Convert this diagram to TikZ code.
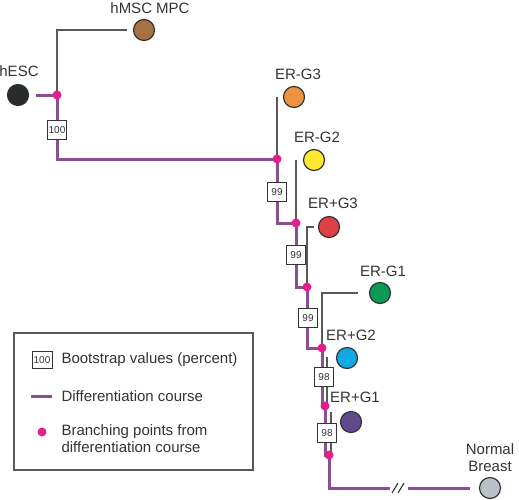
\documentclass[tikz,border=0pt]{standalone}
\usepackage{fontspec}
\setmainfont{Liberation Sans}
\usetikzlibrary{positioning}

\definecolor{course}{RGB}{137,79,145}
\definecolor{branchpink}{RGB}{228,30,140}
\definecolor{inkgray}{RGB}{51,51,51}
\definecolor{cHESC}{RGB}{40,44,43}
\definecolor{cMSC}{RGB}{166,112,64}
\definecolor{cERGthree}{RGB}{236,146,64}
\definecolor{cERGtwo}{RGB}{255,232,48}
\definecolor{cERPGthree}{RGB}{222,64,70}
\definecolor{cERGone}{RGB}{10,154,88}
\definecolor{cERPGtwo}{RGB}{16,170,226}
\definecolor{cERPGone}{RGB}{96,74,142}
\definecolor{cNormal}{RGB}{186,192,200}

\tikzset{
  leaf/.style={circle, draw=inkgray, line width=1.2pt, minimum size=21pt, inner sep=0pt},
  branchpt/.style={circle, fill=branchpink, minimum size=9pt, inner sep=0pt},
  bootbox/.style={draw=inkgray, fill=white, line width=1pt, minimum width=19pt,
    minimum height=19pt, inner sep=0pt, text=inkgray, font=\fontsize{10}{12}\selectfont},
  diff/.style={course, line width=3pt},
  link/.style={black!65, line width=1.3pt},
  lbl/.style={text=inkgray, font=\fontsize{15}{17}\selectfont}
}

\begin{document}
\begin{tikzpicture}[x=1pt, y=-1pt]
    \useasboundingbox (0,0) rectangle (519,499);

    % Branching points on the course
    \coordinate (br1) at (57,95);
    \coordinate (br2) at (277,159);
    \coordinate (br3) at (296,223);
    \coordinate (br4) at (307,287);
    \coordinate (br5) at (322,348);
    \coordinate (br6) at (325,406);
    \coordinate (br7) at (329,455);
    \coordinate (cutin) at (390,488);
    \coordinate (cutout) at (408,488);
    \coordinate (erpgtwotop) at (327,357);
    \coordinate (erpgonetop) at (331,412);

    % Cell types
    \node[leaf, fill=cHESC] (hesc) at (18,95) {};
    \node[leaf, fill=cMSC] (hmsc) at (144,30) {};
    \node[leaf, fill=cERGthree] (ergthree) at (294,97) {};
    \node[leaf, fill=cERGtwo] (ergtwo) at (314,160) {};
    \node[leaf, fill=cERPGthree] (erpgthree) at (329,227) {};
    \node[leaf, fill=cERGone] (ergone) at (380,293) {};
    \node[leaf, fill=cERPGtwo] (erpgtwo) at (347,358) {};
    \node[leaf, fill=cERPGone] (erpgone) at (351,422) {};
    \node[leaf, fill=cNormal] (normal) at (490,488) {};

    % Names of the cell types
    \node[lbl] (hesctxt) at (19,71) {hESC};
    \node[lbl] (hmsctxt) at (150,8) {hMSC MPC};
    \node[lbl] (ergthreetxt) at (298,74) {ER-G3};
    \node[lbl] (ergtwotxt) at (317,137) {ER-G2};
    \node[lbl] (erpgthreetxt) at (333,203) {ER+G3};
    \node[lbl] (ergonetxt) at (383,271) {ER-G1};
    \node[lbl] (erpgtwotxt) at (351,335) {ER+G2};
    \node[lbl] (erpgonetxt) at (355,397) {ER+G1};
    \node[lbl, align=center] (normaltxt) at (490,458) {Normal\\Breast};

    % Side branches
    \draw[link, shorten >=6pt] (br1) |- (hmsc);
    \draw[link] (br2) -- (br2 |- ergthree);
    \draw[link] (br3) -- (br3 |- ergtwo);
    \draw[link, shorten >=4pt] (br4) |- (erpgthree);
    \draw[link, shorten >=11pt] (br5) |- (ergone);
    \draw[link] (erpgtwotop) -- (erpgtwotop |- br6);
    \draw[link] (erpgonetop) -- (erpgonetop |- br7);

    % Differentiation course
    \draw[diff, shorten <=7pt] (hesc) -- (br1);
    \draw[diff] (br1) |- (br2);
    \draw[diff] (br2) |- (br3);
    \draw[diff] (br3) |- (br4);
    \draw[diff] (br4) |- (br5);
    \draw[diff] (br5) |- (br6);
    \draw[diff] (br6) |- (br7);
    \draw[diff] (br7) |- (cutin);
    \draw[diff, shorten >=9pt] (cutout) -- (normal);
    \draw[inkgray, line width=1.1pt] (392,493) -- (398,483) (398,493) -- (404,483);

    % Bootstrap values
    \node[bootbox] (boota) at (57,130) {100};
    \node[bootbox] (bootb) at (277,192) {99};
    \node[bootbox] (bootc) at (296,255) {99};
    \node[bootbox] (bootd) at (308,318) {99};
    \node[bootbox] (boote) at (324,377) {98};
    \node[bootbox] (bootf) at (327,433) {98};

    % Branching dots on top
    \foreach \b in {br1,br2,br3,br4,br5,br6,br7}
        \node[branchpt] (\b dot) at (\b) {};

    % Legend
    \draw[black!65, line width=1.2pt] (14,333) rectangle (253,470);
    \node[bootbox, minimum width=20pt, minimum height=17pt] (keybox) at (42,360) {100};
    \node[lbl, anchor=west] (keyboxtxt) at (58,360) {Bootstrap values (percent)};
    \draw[diff] (31,396) -- (52,396);
    \node[lbl, anchor=west] (keylinetxt) at (58,396) {Differentiation course};
    \node[branchpt] (keydot) at (42,432) {};
    \node[lbl, anchor=west, align=left] (keydottxt) at (58,439) {Branching points from\\differentiation course};

\end{tikzpicture}
\end{document}
